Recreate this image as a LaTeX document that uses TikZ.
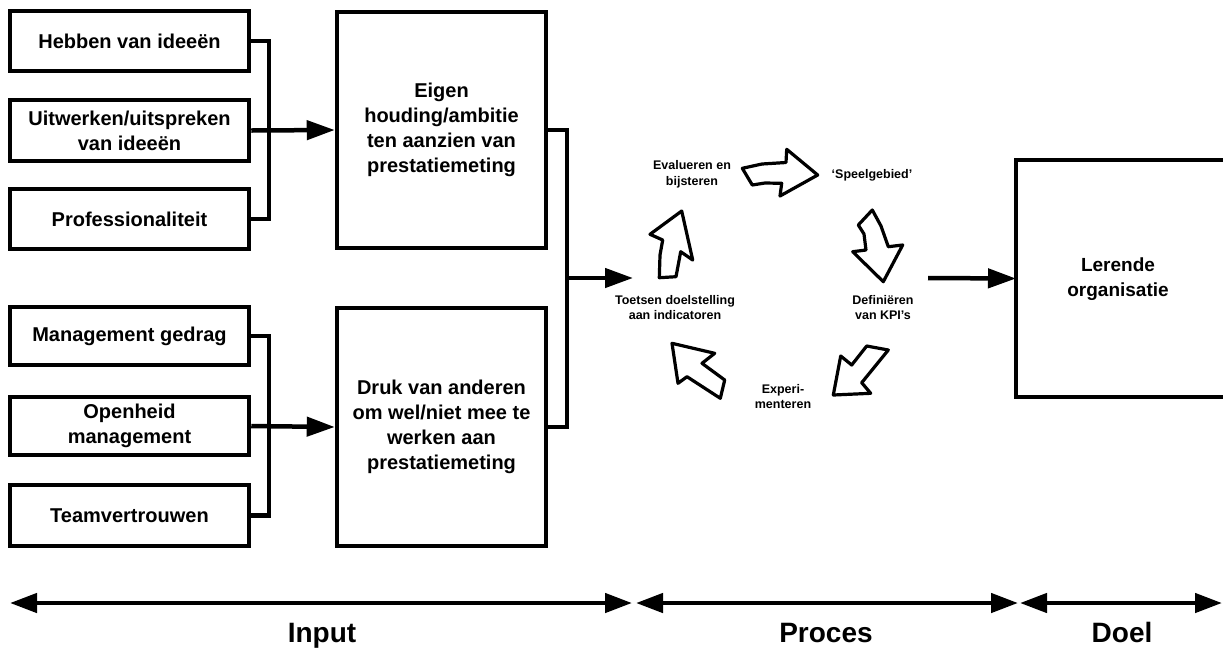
\documentclass[tikz,border=0pt]{standalone}
\usepackage{fontspec}
\setmainfont{Liberation Sans}
\usetikzlibrary{arrows.meta}
\tikzset{
  inbox/.style={draw, line width=4.5pt, minimum width=239pt, inner sep=0pt, align=center,
    font=\fontsize{20}{25}\selectfont\bfseries},
  bigbox/.style={draw, line width=4.5pt, minimum width=209pt, inner sep=0pt, align=center,
    font=\fontsize{20}{25}\selectfont\bfseries},
  cyctext/.style={align=center, inner sep=0pt, font=\fontsize{12.5}{15.5}\selectfont\bfseries},
  conn/.style={line width=4.5pt},
  connarrow/.style={line width=4.5pt, -{Triangle[length=28pt,width=19pt]}},
  spanarrow/.style={line width=4.5pt, {Triangle[length=27pt,width=19pt]}-{Triangle[length=27pt,width=19pt]}},
  blockarrow/.style={draw, line width=3.2pt, line join=round, fill=white},
  spanlabel/.style={inner sep=0pt, anchor=base, font=\fontsize{28}{30}\selectfont\bfseries}
}
\begin{document}
\begin{tikzpicture}[x=1pt,y=-1pt]
\useasboundingbox (0,0) rectangle (1223,649);
% input boxes
\node[inbox, minimum height=60pt] (b1) at (129.5,41) {Hebben van idee\"en};
\node[inbox, minimum height=61pt] (b2) at (129.5,130.5) {Uitwerken/uitspreken\\van idee\"en};
\node[inbox, minimum height=60pt] (b3) at (129.5,219) {Professionaliteit};
\node[inbox, minimum height=58pt] (b4) at (129.5,336) {Management gedrag};
\node[inbox, minimum height=58pt] (b5) at (129.5,426) {Openheid\\management};
\node[inbox, minimum height=61pt] (b6) at (129.5,515.5) {Teamvertrouwen};
% big boxes
\node[bigbox, minimum height=236pt] (B1) at (441.5,130) {Eigen\\houding/ambitie\\ten aanzien van\\prestatiemeting};
\node[bigbox, minimum height=238pt] (B2) at (441.5,427) {Druk van anderen\\om wel/niet mee te\\werken aan\\prestatiemeting};
% goal box
\draw[line width=4.5pt] (1230,160) -- (1016,160) -- (1016,397) -- (1230,397);
\coordinate (goalw) at (1016,278.5);
\node[inner sep=0pt, align=center, font=\fontsize{19}{25}\selectfont\bfseries] (goal) at (1118,279) {Lerende\\organisatie};
% upper bus
\coordinate (busA1) at (269,41);
\coordinate (busA3) at (269,219);
\draw[conn] (b1.east) -- (busA1) -- (busA3) -- (b3.east);
\draw[connarrow] (b2.east) -- (B1.west);
% lower bus
\coordinate (busB4) at (269,336);
\coordinate (busB6) at (269,515.5);
\draw[conn] (b4.east) -- (busB4) -- (busB6) -- (b6.east);
\draw[connarrow] (b5.east) -- (B2.west);
% right bus
\coordinate (busC1) at (567,130);
\coordinate (busC2) at (567,427);
\coordinate (busCm) at (567,278);
\coordinate (cycin) at (633,278);
\coordinate (cycout) at (928,278);
\draw[conn] (B1.east) -- (busC1) -- (busC2) -- (B2.east);
\draw[connarrow] (busCm) -- (cycin);
\draw[connarrow] (cycout) -- (goalw);
% cycle labels
\node[cyctext] (toets) at (675,307.5) {Toetsen doelstelling\\aan indicatoren};
\node[cyctext] (eval) at (692,174.5) {Evalueren en\\bijsteren};
\node[cyctext] (speel) at (872,175) {‘Speelgebied’};
\node[cyctext] (defin) at (883,307.5) {Defini\"eren\\van KPI’s};
\node[cyctext] (exper) at (783,396.5) {Experi-\\menteren};
% cycle block arrows
\draw[blockarrow] (742.3,168.3) -- (762,164) -- (786,162.5) -- (786.7,149.3) -- (817.7,175) -- (780,196) -- (781.7,183.3) -- (765,183) -- (752.3,185) -- cycle;
\draw[blockarrow] (858.3,225) -- (872.3,210) -- (881,226) -- (888.3,246.7) -- (902.7,245) -- (883.3,281.7) -- (852.7,251.7) -- (866,250) -- (864,234) -- cycle;
\draw[blockarrow] (866.7,346) -- (888.3,350) -- (861.7,382.7) -- (870.7,393.3) -- (833.3,395) -- (840.7,356) -- (851.7,365) -- cycle;
\draw[blockarrow] (672,343.3) -- (714.7,353.3) -- (702,363.3) -- (724.7,380) -- (720.3,398.3) -- (687,376.7) -- (678,383.3) -- cycle;
\draw[blockarrow] (681.7,211) -- (692.7,260) -- (680.7,251.7) -- (676,276.7) -- (659.3,277.7) -- (660,255) -- (662.7,240) -- (650,234.3) -- cycle;
% span arrows
\coordinate (inL) at (10,603);
\coordinate (inR) at (632,603);
\coordinate (prL) at (636,603);
\coordinate (prR) at (1018,603);
\coordinate (doL) at (1020,603);
\coordinate (doR) at (1222,603);
\draw[spanarrow] (inL) -- (inR);
\draw[spanarrow] (prL) -- (prR);
\draw[spanarrow] (doL) -- (doR);
\node[spanlabel] (linput) at (322,642) {Input};
\node[spanlabel] (lproc) at (826,642) {Proces};
\node[spanlabel] (ldoel) at (1122,642) {Doel};
\end{tikzpicture}
\end{document}
